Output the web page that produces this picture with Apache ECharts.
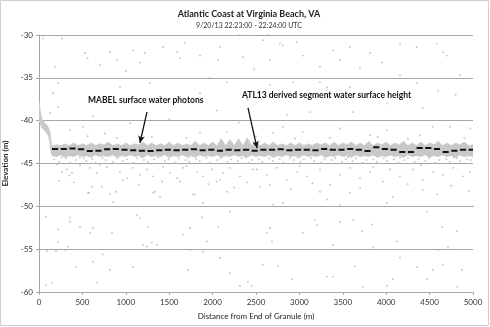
<!DOCTYPE html>
<html><head><meta charset="utf-8">
<script src="https://cdn.jsdelivr.net/npm/echarts@6/dist/echarts.min.js"></script>
<style>html,body{margin:0;padding:0;background:#fff}#c{width:490px;height:327px}</style>
</head><body><div id="c"></div>
<script>
// ---- data ----
const xTicks = [0,500,1000,1500,2000,2500,3000,3500,4000,4500,5000];
const yTicks = [-60,-55,-50,-45,-40,-35,-30];

// dense surface-photon band (beach at start, then water surface)
const bandX = [0,15,30,50,70,90,110,125,140,
 150,200,250,300,350,400,450,500,550,600,650,700,750,800,850,900,950,1000,1050,1100,1150,1200,1250,1300,1350,1400,1450,1500,1550,1600,1650,1700,1750,1800,1850,1900,1950,2000,2050,2100,2150,2200,2250,2300,2350,2400,2450,2500,2550,2600,2650,2700,2750,2800,2850,2900,2950,3000,3050,3100,3150,3200,3250,3300,3350,3400,3450,3500,3550,3600,3650,3700,3750,3800,3850,3900,3950,4000,4050,4100,4150,4200,4250,4300,4350,4400,4450,4500,4550,4600,4650,4700,4750,4800,4850,4900,4950,5000];
const bandTop = [-37.8,-38.8,-39.7,-40.0,-40.3,-40.5,-40.8,-41.2,-42.4,
 -43.0,-42.8,-42.9,-42.7,-42.9,-42.6,-42.9,-42.7,-42.9,-42.6,-42.9,-42.7,-42.8,-42.5,-42.9,-42.7,-42.9,-42.6,-42.9,-42.7,-42.8,-42.5,-42.9,-42.6,-42.9,-42.7,-42.9,-42.5,-42.9,-42.6,-42.9,-42.7,-42.9,-42.4,-42.9,-42.6,-42.9,-42.5,-42.9,-42.1,-42.9,-42.2,-42.9,-42.1,-42.9,-42.0,-42.9,-42.5,-42.9,-42.6,-42.9,-42.5,-42.9,-42.7,-42.9,-42.6,-42.9,-42.6,-42.9,-42.7,-42.9,-42.6,-42.8,-42.6,-42.9,-42.5,-42.9,-42.6,-42.8,-42.5,-42.9,-42.6,-42.9,-42.4,-42.9,-42.6,-42.8,-42.5,-42.9,-42.6,-42.8,-42.4,-42.9,-42.6,-42.9,-42.5,-42.9,-42.6,-42.8,-42.4,-42.9,-42.6,-42.9,-42.6,-42.8,-42.5,-42.9,-42.8];
const bandBottom = [-40.0,-40.4,-40.8,-41.0,-41.2,-41.5,-41.8,-42.6,-43.9,
 -44.1,-44.2,-44.0,-44.3,-44.1,-44.2,-44.0,-44.2,-44.1,-44.3,-44.0,-44.2,-44.1,-44.2,-44.0,-44.3,-44.1,-44.2,-44.0,-44.2,-44.1,-44.3,-44.0,-44.2,-44.1,-44.2,-44.0,-44.3,-44.1,-44.2,-44.0,-44.2,-44.1,-44.3,-44.0,-44.2,-44.1,-44.2,-44.0,-44.3,-44.1,-44.2,-44.0,-44.2,-44.1,-44.3,-44.0,-44.2,-44.1,-44.2,-44.0,-44.3,-44.1,-44.2,-44.0,-44.2,-44.1,-44.3,-44.0,-44.2,-44.1,-44.2,-44.0,-44.3,-44.1,-44.2,-44.0,-44.2,-44.1,-44.3,-44.0,-44.2,-44.1,-44.2,-44.0,-44.3,-44.1,-44.2,-44.0,-44.2,-44.1,-44.3,-44.0,-44.2,-44.1,-44.2,-44.0,-44.3,-44.1,-44.2,-44.0,-44.2,-44.1,-44.3,-44.0,-44.2,-44.1,-44.2];

// ATL13 segment water surface heights (dashes)
const segStart = [150,250,350,450,550,650,750,850,950,1050,1150,1250,1350,1450,1550,1650,1750,1850,1950,2050,2150,2250,2350,2450,2550,2650,2750,2850,2950,3050,3150,3250,3350,3450,3550,3650,3750,3850,3950,4050,4150,4250,4350,4450,4550,4650,4750,4850,4950];
const segHeight = [-43.3,-43.3,-43.25,-43.35,-43.55,-43.5,-43.35,-43.3,-43.4,-43.45,-43.5,-43.55,-43.45,
 -43.4,-43.45,-43.4,-43.35,-43.45,-43.4,-43.5,-43.4,-43.45,-43.4,-43.5,-43.4,-43.4,-43.35,-43.45,-43.4,-43.4,-43.45,
 -43.3,-43.4,-43.4,-43.3,-43.4,-43.55,-43.1,-43.3,-43.4,-43.65,-43.65,-43.2,-43.2,-43.3,-43.65,-43.5,-43.4,-43.4];

// photons just below the surface band
const nearSurface = [[175,-44.5],[232,-44.8],[310,-44.4],[356,-44.9],[428,-44.6],[470,-44.3],[545,-44.7],[612,-44.5],[655,-44.9],[731,-44.4],[770,-44.6],[852,-44.8],[905,-44.4],[968,-44.7],[1012,-44.5],[1093,-44.9],[1131,-44.4],[1208,-44.6],[1255,-44.8],[1327,-44.5],[1372,-44.3],[1448,-44.7],[1493,-44.5],[1571,-44.9],[1612,-44.4],[1690,-44.6],[1733,-44.8],[1811,-44.5],[1852,-44.7],[1928,-44.4],[1973,-44.9],[2052,-44.6],[2093,-44.4],[2171,-44.8],[2213,-44.5],[2291,-44.7],[2333,-44.4],[2412,-44.9],[2452,-44.6],[2531,-44.5],[2573,-44.8],[2651,-44.4],[2692,-44.7],[2772,-44.5],[2813,-44.9],[2891,-44.4],[2932,-44.6],[3011,-44.8],[3052,-44.5],[3133,-44.4],[3171,-44.7],[3252,-44.9],[3291,-44.5],[3372,-44.6],[3412,-44.4],[3491,-44.8],[3533,-44.5],[3612,-44.7],[3651,-44.4],[3731,-44.9],[3773,-44.6],[3852,-44.5],[3891,-44.8],[3972,-44.4],[4012,-44.7],[4091,-44.5],[4133,-44.9],[4212,-44.6],[4251,-44.4],[4331,-44.8],[4372,-44.5],[4452,-44.7],[4491,-44.4],[4571,-44.9],[4612,-44.6],[4692,-44.5],[4731,-44.8],[4812,-44.4],[4852,-44.7],[4931,-44.5],[4975,-44.6],
 [260,-44.3],[520,-44.4],[1180,-44.3],[1720,-44.3],[2380,-44.3],[2980,-44.3],[3560,-44.3],[4160,-44.3],[4780,-44.3]];

// background noise photons
const noise = [
 [46,-30.4],[265,-30.4],[530,-32.1],[818,-32.0],[1085,-31.8],[1221,-32.1],[1430,-31.4],[1590,-32.0],[1680,-30.9],[2085,-31.4],[2315,-30.0],[2580,-30.6],[2640,-30.0],[2776,-31.0],[2810,-31.2],[2970,-30.8],[3390,-31.8],[3580,-31.4],[4160,-31.0],[4350,-31.4],[4580,-31.0],[4655,-32.0],
 [184,-33.7],[560,-32.7],[703,-33.5],[895,-32.9],[1163,-33.2],[1620,-32.7],[1855,-32.4],[2060,-32.9],[2350,-32.6],[2661,-32.9],[3041,-32.4],[3237,-33.7],[3468,-32.9],[3698,-33.9],[3813,-32.1],[4159,-34.7],[4700,-32.4],[4850,-34.7],[1000,-34.2],[2480,-34.0],[3950,-33.2],
 [219,-35.6],[933,-36.1],[1279,-35.6],[161,-36.8],[703,-37.6],[219,-38.4],[127,-39.1],[1394,-37.2],[507,-40.7],[357,-41.1],[1970,-35.0],[2166,-35.5],[2661,-35.8],[2926,-35.5],[3237,-35.5],[1624,-37.2],[1855,-36.8],[2857,-39.3],[3122,-39.0],[2811,-40.7],[1855,-41.4],[2166,-41.3],[2696,-41.4],[3041,-41.3],[4355,-35.6],[3583,-36.1],[3318,-36.1],[4009,-38.0],[3617,-39.0],[4424,-38.5],[3468,-40.9],[4009,-41.1],[4539,-40.7],[4735,-40.7],[4970,-40.9],[3813,-41.7],[4389,-41.7],[620,-39.5],[1050,-40.3],[1500,-39.8],[2400,-37.5],[2050,-38.8],[4800,-37.0],[4600,-36.5],[560,-41.8],[900,-42.0],[1300,-41.9],[1700,-42.0],[2500,-41.8],[2950,-42.1],[3350,-42.0],[3900,-41.9],[4250,-42.1],[4900,-42.0],[760,-41.5],[2300,-40.2],
 [207,-45.1],[323,-45.7],[265,-46.0],[380,-46.1],[472,-45.2],[588,-45.5],[668,-46.1],[783,-45.4],[933,-46.0],[1014,-46.7],[1083,-45.5],[1163,-46.3],[1244,-45.7],[1313,-46.5],[1428,-45.4],[1509,-46.1],[1590,-46.7],[1659,-45.5],[1624,-47.1],[1820,-46.0],[1889,-46.5],[1993,-45.7],[2050,-47.1],[2120,-46.1],[2200,-45.5],[2315,-46.5],[2396,-47.2],[2465,-45.7],[565,-48.4],[818,-48.6],[610,-47.7],[1336,-48.3],[1797,-48.6],[2166,-48.3],[1889,-49.6],[2511,-45.7],[2626,-46.3],[2742,-45.5],[2857,-46.9],[2972,-46.0],[3087,-46.5],[3237,-45.7],[3352,-47.5],[3468,-46.3],[3583,-45.5],[3698,-46.7],[3813,-46.0],[3963,-47.1],[4044,-45.7],[4159,-46.5],[4309,-45.7],[4424,-46.9],[4539,-46.0],[4654,-46.3],[4770,-45.5],[4885,-46.5],[4965,-46.0],[2546,-47.7],[3237,-48.3],[4078,-48.9],[3583,-48.4],[4424,-48.1],[4585,-48.6],[2811,-49.6],[2696,-49.8],[967,-46.9],[726,-47.7],[887,-48.3],[1417,-47.1],[1774,-48.6],[2085,-46.9],[2661,-47.5],[3318,-49.2],[852,-49.5],[1313,-48.4],[1394,-48.9],[576,-48.4],[400,-47.2],[1150,-47.5],[1950,-47.4],[2250,-47.8],[2900,-48.0],[3150,-47.3],[3700,-47.9],[4250,-47.4],[4750,-47.6],[4950,-48.2],[3000,-45.3],[3850,-45.4],[4400,-45.2],[1700,-45.3],[700,-45.2],[350,-46.4],[230,-47.0],
 [81,-51.2],[92,-55.2],[196,-55.2],[300,-55.1],[219,-52.7],[219,-54.2],[334,-54.7],[357,-51.3],[357,-51.8],[426,-57.1],[472,-52.4],[588,-53.1],[622,-52.5],[622,-56.5],[668,-58.9],[737,-55.6],[818,-57.4],[841,-53.1],[1083,-57.1],[1129,-51.0],[1163,-51.4],[1198,-54.5],[1244,-54.7],[1256,-52.4],[1302,-54.2],[1359,-54.5],[81,-59.2],[150,-58.9],
 [2200,-50.6],[1878,-51.3],[1659,-53.3],[1740,-52.5],[2062,-52.4],[1935,-54.1],[1889,-55.3],[1740,-55.1],[2661,-52.5],[2684,-54.1],[2626,-53.1],[3180,-51.6],[3203,-52.2],[3041,-53.1],[2085,-56.0],[2580,-56.8],[1717,-57.4],[2200,-57.8],[2407,-58.8],[2453,-59.3],[2315,-59.3],[2914,-58.5],[3318,-58.2],[2753,-57.0],
 [3468,-49.8],[4009,-49.6],[4470,-50.6],[5000,-50.0],[3468,-51.8],[3617,-51.6],[3721,-52.9],[3836,-52.1],[4124,-54.1],[4159,-56.0],[3848,-54.8],[4643,-52.4],[4816,-52.9],[4597,-55.1],[4712,-54.8],[3387,-54.5],[3640,-57.0],[4355,-57.1],[4539,-57.4],[4654,-56.8],[4873,-57.4],[4078,-58.5],[4009,-59.3],[4470,-58.5],[4816,-59.4],[3733,-59.4],[3387,-58.2]
];

// annotation arrows (data coordinates)
const arrowMabel = [[1244,-39.0],[1163,-42.6]];
const arrowAtl = [[2408,-38.5],[2512,-43.2]];

// ---- build chart ----
const FONT = 'Lato, "Open Sans", sans-serif';
const dashData = [];
segStart.forEach((s,i)=>{
  const e = Math.min(s+70, 5000);
  dashData.push([s, segHeight[i]], [e, segHeight[i]], [e+1, null]);
});

function renderBand(params, api){
  const pts = [];
  for (let i=0;i<bandX.length;i++) pts.push(api.coord([bandX[i], bandTop[i]]));
  for (let i=bandX.length-1;i>=0;i--) pts.push(api.coord([bandX[i], bandBottom[i]]));
  return {type:'polygon', shape:{points:pts},
    style:{fill:'#c8c8c8', stroke:'#cdcdcd', lineWidth:0.6}};
}

const chart = echarts.init(document.getElementById('c'), null, {renderer:'canvas'});
chart.setOption({
  animation:false,
  backgroundColor:'#fff',
  title:{
    text:'Atlantic Coast at Virginia Beach, VA',
    subtext:'9/20/13 22:23:00 - 22:24:00 UTC',
    left:244, top:5, textAlign:'center', itemGap:3,
    textStyle:{fontFamily:FONT, fontSize:9, fontWeight:'bold', color:'#222'},
    subtextStyle:{fontFamily:FONT, fontSize:7, color:'#333'}
  },
  grid:{left:39, right:17, top:35, bottom:35, containLabel:false, outerBoundsMode:'none'},
  xAxis:{
    type:'value', min:0, max:5000, interval:500,
    name:'Distance from End of Granule (m)', nameLocation:'middle', nameGap:20,
    nameTextStyle:{fontFamily:FONT, fontSize:8, color:'#222'},
    axisLine:{show:true, lineStyle:{color:'#a6a6a6'}},
    axisTick:{show:true, length:3, lineStyle:{color:'#a6a6a6'}},
    axisLabel:{fontFamily:FONT, fontSize:8, color:'#333', margin:6,
      formatter:v=>xTicks.includes(v)?String(v):''},
    splitLine:{show:false}
  },
  yAxis:{
    type:'value', min:-60, max:-30, interval:5,
    name:'Elevation (m)', nameLocation:'middle', nameGap:24,
    nameTextStyle:{fontFamily:FONT, fontSize:8, fontWeight:'bold', color:'#222'},
    axisLine:{show:true, lineStyle:{color:'#a6a6a6'}},
    axisTick:{show:true, length:3, lineStyle:{color:'#a6a6a6'}},
    axisLabel:{fontFamily:FONT, fontSize:8, color:'#333', margin:6,
      formatter:v=>yTicks.includes(v)?String(v):''},
    splitLine:{show:true, lineStyle:{color:'#a6a6a6', width:1}}
  },
  series:[
    {type:'custom', name:'MABEL surface water photons', silent:true,
     coordinateSystem:'cartesian2d', renderItem:renderBand, data:[[0,0]], z:2, clip:true},
    {type:'scatter', name:'nearSurface', silent:true, symbolSize:2,
     itemStyle:{color:'#bdbdbd'}, data:nearSurface, z:3},
    {type:'scatter', name:'noise', silent:true, symbolSize:1.8,
     itemStyle:{color:'#b0b0b0'}, data:noise, z:3},
    {type:'line', name:'ATL13 derived segment water surface height', silent:true, symbol:'none',
     connectNulls:false,
     lineStyle:{width:2, color:'#111', cap:'butt'},
     data:dashData, z:5,
     markLine:{
       silent:true, symbol:['none','arrow'], symbolSize:[5,7],
       label:{show:false},
       lineStyle:{color:'#111', width:1.3, type:'solid'},
       data:[
         [{coord:arrowMabel[0]},{coord:arrowMabel[1]}],
         [{coord:arrowAtl[0]},{coord:arrowAtl[1]}]
       ]
     }}
  ],
  graphic:[
    {type:'rect', shape:{x:0.5,y:0.5,width:488,height:325}, style:{fill:'none', stroke:'#cfcfcf', lineWidth:1}, silent:true},
    {type:'text', left:88, top:96, silent:true,
     style:{text:'MABEL surface water photons', font:'bold 8.5px '+FONT, fill:'#111'}},
    {type:'text', left:242, top:91, silent:true,
     style:{text:'ATL13 derived segment water surface height', font:'bold 8.5px '+FONT, fill:'#111'}}
  ]
});
</script>
</body></html>
